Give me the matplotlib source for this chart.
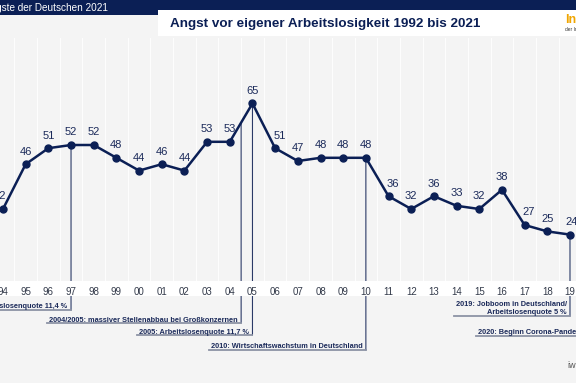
import matplotlib
matplotlib.use("Agg")
import matplotlib.pyplot as plt
import matplotlib.transforms as mtransforms
from matplotlib.patches import Rectangle
import numpy as np

# data (share of people afraid of losing their job, in %)
years = [1994, 1995, 1996, 1997, 1998, 1999, 2000, 2001, 2002, 2003, 2004, 2005, 2006,
         2007, 2008, 2009, 2010, 2011, 2012, 2013, 2014, 2015, 2016, 2017, 2018, 2019]
values = [32, 46, 51, 52, 52, 48, 44, 46, 44, 53, 53, 65, 51,
          47, 48, 48, 48, 36, 32, 36, 33, 32, 38, 27, 25, 24]
tick_labels = ["94", "95", "96", "97", "98", "99", "00", "01", "02", "03", "04", "05", "06",
               "07", "08", "09", "10", "11", "12", "13", "14", "15", "16", "17", "18", "19"]

notes = [
    (1997, "1997: Arbeitslosenquote 11,4 %"),
    (2004.5, "2004/2005: massiver Stellenabbau bei Großkonzernen"),
    (2005, "2005: Arbeitslosenquote 11,7 %"),
    (2010, "2010: Wirtschaftswachstum in Deutschland"),
    (2019, "2019: Jobboom in Deutschland/\nArbeitslosenquote 5 %"),
    (2020, "2020: Beginn Corona-Pandemie"),
]

navy = "#0b1f55"
bg = "#f4f4f4"
W, H = 576, 383
plt.rcParams['font.family'] = ['Liberation Sans', 'DejaVu Sans']

fig = plt.figure(figsize=(W / 100, H / 100), dpi=100)
fig.patch.set_facecolor(bg)

def fy(px):
    return 1 - px / H

def fx(px):
    return px / W

# header
fig.add_artist(Rectangle((0, fy(15)), 1, 15 / H, transform=fig.transFigure,
                         facecolor=navy, edgecolor="none"))
fig.add_artist(Rectangle((fx(158), fy(36)), 1 - fx(158), 26 / H, transform=fig.transFigure,
                         facecolor="white", edgecolor="none"))
fig.text(fx(108), fy(7.5), "Die Ängste der Deutschen 2021", color="white", fontsize=7.2,
         ha="right", va="center")
fig.text(fx(170), fy(23.5), "Angst vor eigener Arbeitslosigkeit 1992 bis 2021", color=navy,
         fontsize=9.7, fontweight="bold", ha="left", va="center")
fig.text(fx(565), fy(20), "Info", color="#f0a500", fontsize=9, fontweight="bold",
         ha="left", va="center")
fig.text(fx(565), fy(29.5), "der Infografik", color="#333333", fontsize=3.5,
         ha="left", va="center")
fig.text(fx(567), fy(365), "iwd", color="#555555", fontsize=6.5, ha="left", va="center")

ax = fig.add_axes([0, fy(281), 1, (281 - 38) / H])
ax.set_facecolor("none")
ax.set_xlim(1993.868, 2019.265)
ax.set_ylim(9.5, 85.44)
for s in ax.spines.values():
    s.set_visible(False)

blend = mtransforms.blended_transform_factory(ax.transAxes, fig.transFigure)
blend_data = mtransforms.blended_transform_factory(ax.transData, fig.transFigure)

# white band behind tick labels (covers the note lines, not the labels)
ax.add_patch(Rectangle((0, fy(296)), 1, 15 / H, transform=blend, facecolor="white",
                       edgecolor="none", clip_on=False, zorder=1.2))

# faint white separators between years
for x in np.arange(1993.5, 2020, 1):
    ax.axvline(x, color="white", lw=0.8, alpha=0.9, zorder=0.5)

ax.set_xticks(years)
ax.set_xticklabels(tick_labels, fontsize=7, color="#333a4a")
ax.tick_params(axis="x", length=0, pad=4)
ax.set_yticks([])

ax.plot(years, values, color=navy, lw=1.8, marker="o", markersize=5, zorder=3)

dx = {1994: -2, 2006: 3, 2011: 3, 2017: 3, 2019: 1}
for yr, v in zip(years, values):
    ax.annotate(str(v), (yr, v), xytext=(dx.get(yr, 0), 5.5), textcoords="offset points",
                ha="center", va="bottom", fontsize=8, color="#1b2a5a", annotation_clip=False)

# annotations below the chart
note_pos = {1997: (306, 310), 2004.5: (320, 323), 2005: (332, 335),
            2010: (346.5, 350), 2019: (308.5, 316), 2020: (332, 336)}
texts = []
for yr, txt in notes:
    ty, ly = note_pos[yr]
    if yr <= years[-1]:
        v = np.interp(yr, years, values)
        ax.annotate("", xy=(yr, v), xycoords="data", xytext=(yr, fy(ly)), textcoords=blend_data,
                    arrowprops=dict(arrowstyle="-", color="#2b3a67", lw=0.8,
                                    shrinkA=0, shrinkB=0), zorder=0.8)
    t = ax.annotate(txt, (yr, fy(ty)), xycoords=blend_data, xytext=(-2.5, 0),
                    textcoords="offset points", ha="right", va="center", fontsize=5.3,
                    fontweight="bold", color="#1b2a5a", linespacing=1.1,
                    annotation_clip=False)
    texts.append((t, yr, ly))

# grey underline below each note, from the text start to its line
fig.canvas.draw()
inv = ax.transData.inverted()
for t, yr, ly in texts:
    bb = t.get_window_extent()
    xd0 = inv.transform((bb.x0 - 2, 0))[0]
    ax.plot([xd0, yr], [fy(ly), fy(ly)], transform=blend_data, color="#8c93a5", lw=1.3,
            clip_on=False, zorder=1.3)

fig.savefig("out.png", dpi=100, facecolor=fig.get_facecolor())
